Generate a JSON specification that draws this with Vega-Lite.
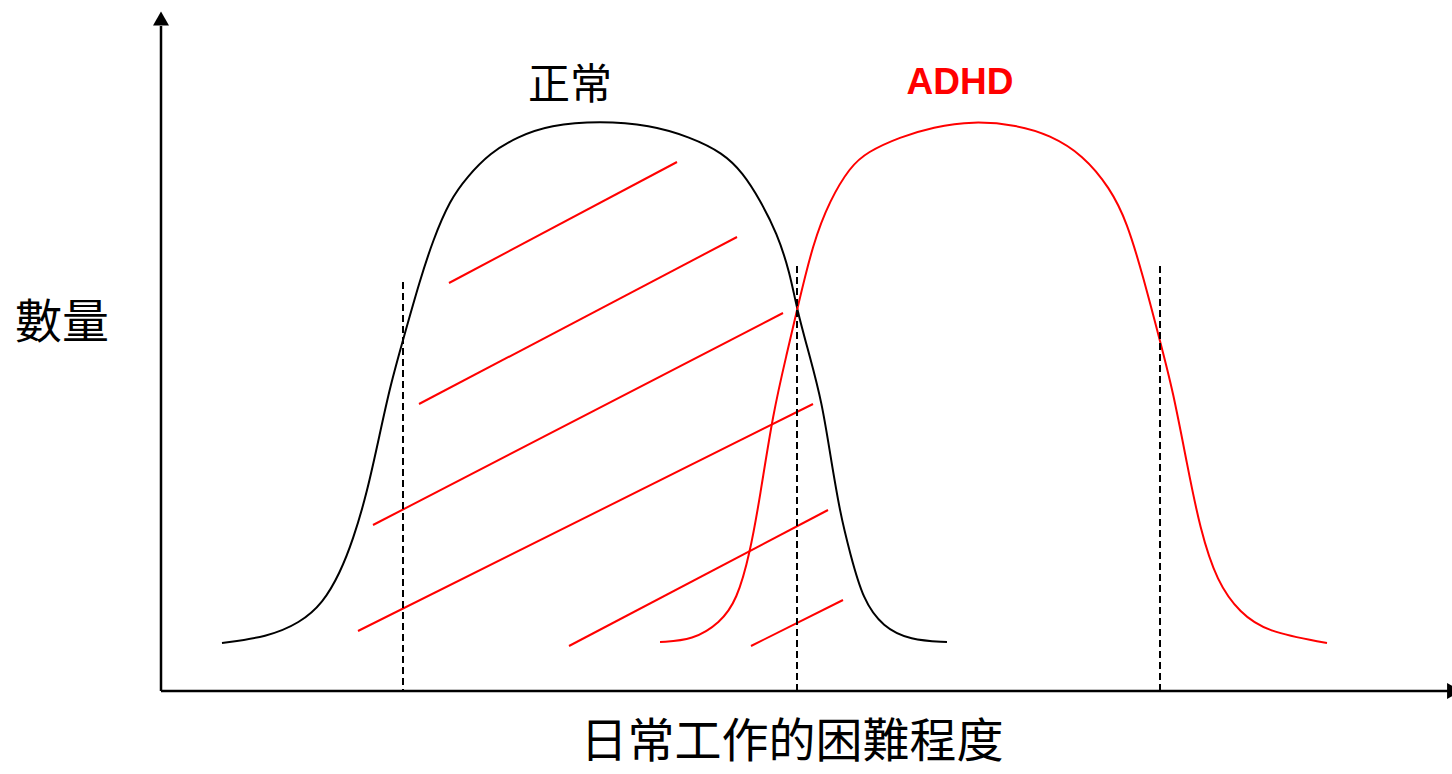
{
  "$schema": "https://vega.github.io/schema/vega-lite/v6.json",
  "width": 1452,
  "height": 774,
  "autosize": {"type": "none"},
  "padding": 0,
  "config": {"view": {"stroke": null}},
  "datasets": {
    "curves": [
      {"group": "正常", "d": 61, "n": 48},
      {"group": "正常", "d": 106, "n": 54},
      {"group": "正常", "d": 139, "n": 68},
      {"group": "正常", "d": 162, "n": 88},
      {"group": "正常", "d": 179, "n": 118},
      {"group": "正常", "d": 192, "n": 151},
      {"group": "正常", "d": 206, "n": 198},
      {"group": "正常", "d": 219, "n": 258},
      {"group": "正常", "d": 229, "n": 304},
      {"group": "正常", "d": 242, "n": 351},
      {"group": "正常", "d": 259, "n": 411},
      {"group": "正常", "d": 272, "n": 451},
      {"group": "正常", "d": 289, "n": 491},
      {"group": "正常", "d": 306, "n": 514},
      {"group": "正常", "d": 329, "n": 538},
      {"group": "正常", "d": 356, "n": 554},
      {"group": "正常", "d": 389, "n": 566},
      {"group": "正常", "d": 439, "n": 570},
      {"group": "正常", "d": 489, "n": 566},
      {"group": "正常", "d": 529, "n": 554},
      {"group": "正常", "d": 562, "n": 538},
      {"group": "正常", "d": 582, "n": 518},
      {"group": "正常", "d": 599, "n": 491},
      {"group": "正常", "d": 616, "n": 458},
      {"group": "正常", "d": 629, "n": 418},
      {"group": "正常", "d": 636, "n": 381},
      {"group": "正常", "d": 649, "n": 334},
      {"group": "正常", "d": 661, "n": 288},
      {"group": "正常", "d": 669, "n": 238},
      {"group": "正常", "d": 679, "n": 178},
      {"group": "正常", "d": 689, "n": 138},
      {"group": "正常", "d": 702, "n": 91},
      {"group": "正常", "d": 722, "n": 64},
      {"group": "正常", "d": 749, "n": 51},
      {"group": "正常", "d": 786, "n": 49},
      {"group": "ADHD", "d": 499, "n": 49},
      {"group": "ADHD", "d": 532, "n": 51},
      {"group": "ADHD", "d": 559, "n": 68},
      {"group": "ADHD", "d": 576, "n": 91},
      {"group": "ADHD", "d": 589, "n": 138},
      {"group": "ADHD", "d": 599, "n": 194},
      {"group": "ADHD", "d": 612, "n": 278},
      {"group": "ADHD", "d": 626, "n": 338},
      {"group": "ADHD", "d": 636, "n": 381},
      {"group": "ADHD", "d": 652, "n": 448},
      {"group": "ADHD", "d": 669, "n": 491},
      {"group": "ADHD", "d": 689, "n": 524},
      {"group": "ADHD", "d": 706, "n": 539},
      {"group": "ADHD", "d": 739, "n": 554},
      {"group": "ADHD", "d": 772, "n": 564},
      {"group": "ADHD", "d": 812, "n": 570},
      {"group": "ADHD", "d": 856, "n": 566},
      {"group": "ADHD", "d": 889, "n": 556},
      {"group": "ADHD", "d": 922, "n": 536},
      {"group": "ADHD", "d": 949, "n": 503},
      {"group": "ADHD", "d": 966, "n": 469},
      {"group": "ADHD", "d": 982, "n": 415},
      {"group": "ADHD", "d": 999, "n": 350},
      {"group": "ADHD", "d": 1012, "n": 300},
      {"group": "ADHD", "d": 1026, "n": 227},
      {"group": "ADHD", "d": 1039, "n": 162},
      {"group": "ADHD", "d": 1056, "n": 109},
      {"group": "ADHD", "d": 1079, "n": 78},
      {"group": "ADHD", "d": 1106, "n": 59},
      {"group": "ADHD", "d": 1166, "n": 48}
    ],
    "hatch": [
      {"d1": 288, "n1": 408, "d2": 516, "n2": 529},
      {"d1": 258, "n1": 287, "d2": 576, "n2": 454},
      {"d1": 212, "n1": 166, "d2": 622, "n2": 378},
      {"d1": 197, "n1": 60, "d2": 652, "n2": 287},
      {"d1": 408, "n1": 45, "d2": 667, "n2": 181},
      {"d1": 590, "n1": 45, "d2": 682, "n2": 91}
    ],
    "cutoffs": [
      {"d": 242, "top": 409},
      {"d": 636, "top": 425},
      {"d": 999, "top": 425}
    ]
  },
  "layer": [
    {
      "data": {"name": "curves"},
      "mark": {"type": "line", "interpolate": "basis", "strokeWidth": 2},
      "encoding": {
        "x": {"field": "d", "type": "quantitative", "scale": {"domain": [-161, 1291], "nice": false, "zero": false}, "axis": null},
        "y": {"field": "n", "type": "quantitative", "scale": {"domain": [-83, 691], "nice": false, "zero": false}, "axis": null},
        "color": {"field": "group", "type": "nominal", "scale": {"domain": ["正常", "ADHD"], "range": ["#000000", "#ff0000"]}, "legend": null},
        "detail": {"field": "group"}
      }
    },
    {
      "data": {"name": "hatch"},
      "mark": {"type": "rule", "color": "#ff0000", "strokeWidth": 2},
      "encoding": {
        "x": {"field": "d1", "type": "quantitative", "scale": {"domain": [-161, 1291], "nice": false, "zero": false}, "axis": null},
        "y": {"field": "n1", "type": "quantitative", "scale": {"domain": [-83, 691], "nice": false, "zero": false}, "axis": null},
        "x2": {"field": "d2"},
        "y2": {"field": "n2"}
      }
    },
    {
      "data": {"name": "cutoffs"},
      "mark": {"type": "rule", "color": "#000000", "strokeWidth": 2, "strokeDash": [7, 4]},
      "encoding": {
        "x": {"field": "d", "type": "quantitative", "scale": {"domain": [-161, 1291], "nice": false, "zero": false}, "axis": null},
        "y": {"field": "top", "type": "quantitative", "scale": {"domain": [-83, 691], "nice": false, "zero": false}, "axis": null},
        "y2": {"datum": 0}
      }
    },
    {
      "data": {"values": [{}]},
      "mark": {"type": "rule", "color": "#000000", "strokeWidth": 2.5},
      "encoding": {
        "x": {"datum": 0, "type": "quantitative", "scale": {"domain": [-161, 1291], "nice": false, "zero": false}, "axis": null},
        "y": {"datum": 0, "type": "quantitative", "scale": {"domain": [-83, 691], "nice": false, "zero": false}, "axis": null},
        "y2": {"datum": 665}
      }
    },
    {
      "data": {"values": [{}]},
      "mark": {"type": "rule", "color": "#000000", "strokeWidth": 2.5},
      "encoding": {
        "x": {"datum": 0, "type": "quantitative", "scale": {"domain": [-161, 1291], "nice": false, "zero": false}, "axis": null},
        "y": {"datum": 0, "type": "quantitative", "scale": {"domain": [-83, 691], "nice": false, "zero": false}, "axis": null},
        "x2": {"datum": 1288}
      }
    },
    {
      "data": {"values": [{}]},
      "mark": {"type": "point", "shape": "triangle-up", "filled": true, "color": "#000000", "size": 256, "opacity": 1},
      "encoding": {
        "x": {"datum": 0, "type": "quantitative", "scale": {"domain": [-161, 1291], "nice": false, "zero": false}, "axis": null},
        "y": {"datum": 672.5, "type": "quantitative", "scale": {"domain": [-83, 691], "nice": false, "zero": false}, "axis": null}
      }
    },
    {
      "data": {"values": [{}]},
      "mark": {"type": "point", "shape": "triangle-right", "filled": true, "color": "#000000", "size": 256, "opacity": 1},
      "encoding": {
        "x": {"datum": 1293, "type": "quantitative", "scale": {"domain": [-161, 1291], "nice": false, "zero": false}, "axis": null},
        "y": {"datum": 0, "type": "quantitative", "scale": {"domain": [-83, 691], "nice": false, "zero": false}, "axis": null}
      }
    },
    {
      "data": {"values": [{"label": "正常"}]},
      "mark": {"type": "text", "font": "Noto Sans CJK TC", "fontSize": 42, "color": "#000000", "align": "center", "baseline": "middle"},
      "encoding": {
        "x": {"datum": 409, "type": "quantitative", "scale": {"domain": [-161, 1291], "nice": false, "zero": false}, "axis": null},
        "y": {"datum": 605, "type": "quantitative", "scale": {"domain": [-83, 691], "nice": false, "zero": false}, "axis": null},
        "text": {"field": "label"}
      }
    },
    {
      "data": {"values": [{"label": "ADHD"}]},
      "mark": {"type": "text", "font": "Liberation Sans", "fontWeight": "bold", "fontSize": 37, "color": "#ff0000", "align": "center", "baseline": "middle"},
      "encoding": {
        "x": {"datum": 799, "type": "quantitative", "scale": {"domain": [-161, 1291], "nice": false, "zero": false}, "axis": null},
        "y": {"datum": 608, "type": "quantitative", "scale": {"domain": [-83, 691], "nice": false, "zero": false}, "axis": null},
        "text": {"field": "label"}
      }
    },
    {
      "data": {"values": [{"label": "數量"}]},
      "mark": {"type": "text", "font": "Noto Sans CJK TC", "fontSize": 47, "color": "#000000", "align": "center", "baseline": "middle"},
      "encoding": {
        "x": {"datum": -99, "type": "quantitative", "scale": {"domain": [-161, 1291], "nice": false, "zero": false}, "axis": null},
        "y": {"datum": 367, "type": "quantitative", "scale": {"domain": [-83, 691], "nice": false, "zero": false}, "axis": null},
        "text": {"field": "label"}
      }
    },
    {
      "data": {"values": [{"label": "日常工作的困難程度"}]},
      "mark": {"type": "text", "font": "Noto Sans CJK TC", "fontSize": 47, "color": "#000000", "align": "center", "baseline": "middle"},
      "encoding": {
        "x": {"datum": 631, "type": "quantitative", "scale": {"domain": [-161, 1291], "nice": false, "zero": false}, "axis": null},
        "y": {"datum": -52, "type": "quantitative", "scale": {"domain": [-83, 691], "nice": false, "zero": false}, "axis": null},
        "text": {"field": "label"}
      }
    }
  ]
}
